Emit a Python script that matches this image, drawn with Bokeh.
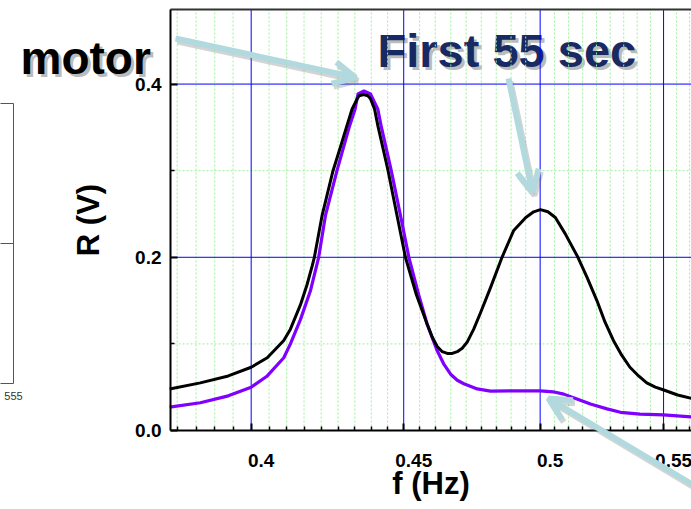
import numpy as np
from bokeh.plotting import figure
from bokeh.models import Range1d, FixedTicker, PrintfTickFormatter, Label, Arrow, OpenHead
from bokeh.embed import file_html
from bokeh.resources import INLINE

# ---------------- data ----------------
F_BLACK = [0.3756, 0.3846, 0.3930, 0.4000, 0.4050, 0.4102, 0.4123, 0.4155, 0.4176,
           0.4193, 0.4200, 0.4225, 0.4261, 0.4287, 0.4307, 0.4324, 0.4341, 0.4348,
           0.4363, 0.4377, 0.4386, 0.4400, 0.4411, 0.4446, 0.4477, 0.4506, 0.4544,
           0.4582, 0.4600, 0.4618, 0.4636, 0.4654, 0.4672, 0.4690, 0.4708, 0.4726,
           0.4750, 0.4775, 0.4812, 0.4855, 0.4899, 0.4945, 0.4975, 0.5001, 0.5030,
           0.5059, 0.5098, 0.5148, 0.5184, 0.5224, 0.5257, 0.5291, 0.5325, 0.5359,
           0.5395, 0.5429, 0.5465, 0.5498, 0.5560, 0.5620]
R_BLACK = [0.048, 0.055, 0.063, 0.073, 0.084, 0.104, 0.117, 0.145, 0.168,
           0.190, 0.200, 0.248, 0.300, 0.329, 0.352, 0.371, 0.383, 0.3865,
           0.388, 0.3865, 0.383, 0.371, 0.352, 0.300, 0.248, 0.200, 0.157,
           0.123, 0.108, 0.097, 0.091, 0.089, 0.089, 0.091, 0.095, 0.102,
           0.117, 0.136, 0.165, 0.200, 0.231, 0.246, 0.2525, 0.255, 0.2525,
           0.246, 0.227, 0.200, 0.177, 0.150, 0.125, 0.104, 0.087, 0.073,
           0.063, 0.055, 0.050, 0.047, 0.041, 0.037]

F_PURPLE = [0.3756, 0.3846, 0.3930, 0.4000, 0.4050, 0.4102, 0.4123, 0.4155, 0.4187,
            0.4214, 0.4236, 0.4274, 0.4316, 0.4334, 0.4344, 0.4364, 0.4386, 0.4411,
            0.4422, 0.4457, 0.4489, 0.4518, 0.4552, 0.4582, 0.4618, 0.4641, 0.4666,
            0.4690, 0.4714, 0.4763, 0.4812, 0.4900, 0.5001, 0.5050, 0.5092, 0.5147,
            0.5198, 0.5265, 0.5320, 0.5401, 0.5500, 0.5620]
R_PURPLE = [0.027, 0.032, 0.040, 0.050, 0.063, 0.084, 0.100, 0.128, 0.161,
            0.200, 0.248, 0.300, 0.352, 0.371, 0.3885, 0.392, 0.3885, 0.371,
            0.352, 0.300, 0.248, 0.200, 0.157, 0.123, 0.092, 0.077, 0.065,
            0.058, 0.054, 0.048, 0.0455, 0.0458, 0.0458, 0.0447, 0.042, 0.036,
            0.0305, 0.025, 0.021, 0.019, 0.018, 0.0158]

X_TICKS = [0.4, 0.45, 0.5, 0.55]
X_TICK_LABELS = ["0.4", "0.45", "0.5", "0.55"]
Y_TICKS = [0.0, 0.2, 0.4]
Y_MINOR_TICKS = [0.1, 0.3]

# ---------------- geometry (canvas pixels of the data area) ----------------
W, H = 691, 509
FL, FR, FT, FB = 170, 691, 9, 430
X0, X1 = 0.37584, 0.56199
Y0, Y1 = 0.0, 0.4861


def cx(px):
    return X0 * (X1 / X0) ** ((px - FL) / (FR - FL))


def cy(py):
    return Y0 + (Y1 - Y0) * (FB - py) / (FB - FT)


def tick_px(v):
    return FL + (FR - FL) * np.log(v / X0) / np.log(X1 / X0)


step = (X_TICKS[1] - X_TICKS[0]) / 9.0
minor_x = []
for k in range(-10, 40):
    v = round(X_TICKS[0] + k * step, 6)
    if X0 <= v <= X1 and all(abs(v - t) > 1e-6 for t in X_TICKS):
        minor_x.append(v)

p = figure(width=W, height=H, x_axis_type="log",
           x_range=Range1d(cx(0), cx(W)), y_range=Range1d(cy(H), cy(0)),
           output_backend="svg", toolbar_location=None,
           min_border=0, min_border_left=0, min_border_right=0,
           min_border_top=0, min_border_bottom=0,
           outline_line_color=None,
           background_fill_color="white", border_fill_color="white")
p.xgrid.visible = False
p.ygrid.visible = False

FONT = "Liberation Sans"

xa = p.xaxis[0]
xa.fixed_location = Y0
xa.bounds = (X0, X1)
xa.ticker = FixedTicker(ticks=X_TICKS, minor_ticks=minor_x)
xa.major_label_text_color = None
xa.axis_label = "f (Hz)"
xa.axis_label_standoff = 35

ya = p.yaxis[0]
ya.fixed_location = X0
ya.bounds = (Y0, Y1)
ya.ticker = FixedTicker(ticks=Y_TICKS, minor_ticks=Y_MINOR_TICKS)
ya.formatter = PrintfTickFormatter(format="%.1f")
ya.major_label_text_font = FONT
ya.major_label_text_font_style = "bold"
ya.major_label_text_font_size = "19px"
ya.major_label_text_color = "black"
ya.major_label_standoff = 9
ya.axis_label = "R (V)"
ya.axis_label_standoff = 26

for ax in (xa, ya):
    ax.axis_label_text_font = FONT
    ax.axis_label_text_font_style = "bold"
    ax.axis_label_text_font_size = "31px"
    ax.axis_label_text_color = "black"
    ax.axis_line_color = "black"
    ax.axis_line_width = 2
    ax.major_tick_in = 7
    ax.major_tick_out = 0
    ax.minor_tick_in = 4
    ax.minor_tick_out = 0
    ax.major_tick_line_color = "black"
    ax.major_tick_line_width = 2
    ax.minor_tick_line_color = "black"
    ax.minor_tick_line_width = 1.5

# grid lines, limited to the data area
n = len(minor_x)
p.segment(x0=minor_x, y0=[Y0] * n, x1=minor_x, y1=[Y1] * n,
          line_color="#9cf09c", line_width=1, line_dash="2 2")
m = len(Y_MINOR_TICKS)
p.segment(x0=[X0] * m, y0=Y_MINOR_TICKS, x1=[X1] * m, y1=Y_MINOR_TICKS,
          line_color="#9cf09c", line_width=1, line_dash="2 2")
k = len(X_TICKS)
p.segment(x0=X_TICKS, y0=[Y0] * k, x1=X_TICKS, y1=[Y1] * k, line_color="#0000ff", line_width=1)
ymaj = Y_TICKS[1:]
p.segment(x0=[X0] * len(ymaj), y0=ymaj, x1=[X1] * len(ymaj), y1=ymaj, line_color="#0000ff", line_width=1)
# top border of the frame
p.segment(x0=[X0], y0=[Y1], x1=[X1], y1=[Y1], line_color="#333333", line_width=2)

# curves
p.line(F_PURPLE, R_PURPLE, line_color="#7f00ff", line_width=3.2, line_join="round")
p.line(F_BLACK, R_BLACK, line_color="black", line_width=3, line_join="round")


def seg(x0, y0, x1, y1, color, width, alpha=1.0):
    p.add_layout(Arrow(x_start=x0, y_start=y0, x_end=x1, y_end=y1,
                       start_units="canvas", end_units="canvas",
                       line_color=color, line_width=width, line_alpha=alpha, end=None))


# x tick labels (sit a little right of their ticks, as in the original)
for t, s in zip(X_TICKS, X_TICK_LABELS):
    p.add_layout(Label(x=tick_px(t) + 10, y=460, x_units="canvas", y_units="canvas", text=s,
                       text_font=FONT, text_font_style="bold", text_font_size="19px",
                       text_align="center", text_baseline="middle", text_color="black"))

# "First 55 sec" (drawn under the grid)
for dx, dy, col, al in ((3, 3, "#808080", 0.55), (0, 0, "#172a64", 1.0)):
    p.add_layout(Label(x=377 + dx, y=50 + dy, x_units="canvas", y_units="canvas", text="First 55 sec",
                       text_font=FONT, text_font_style="bold", text_font_size="47px",
                       text_color=col, text_alpha=al, text_align="left",
                       text_baseline="alphabetic", level="image"))

# "motor"
for dx, dy, col, al in ((3, 3, "#808080", 0.55), (0, 0, "black", 1.0)):
    p.add_layout(Label(x=20 + dx, y=57 + dy, x_units="canvas", y_units="canvas", text="motor",
                       text_font=FONT, text_font_style="bold", text_font_size="46px",
                       text_color=col, text_alpha=al, text_align="left",
                       text_baseline="alphabetic"))

# arrows (with soft shadow)
ARROWS = [((175, 38), (355, 77)), ((508, 78), (532, 192)), ((702, 490), (548, 398))]
for (sx, sy), (ex, ey) in ARROWS:
    p.add_layout(Arrow(x_start=sx + 2, y_start=sy + 3, x_end=ex + 2, y_end=ey + 3,
                       start_units="canvas", end_units="canvas",
                       line_color="#707070", line_alpha=0.3, line_width=6,
                       end=OpenHead(size=22, line_width=6, line_color="#707070", line_alpha=0.3)))
    p.add_layout(Arrow(x_start=sx, y_start=sy, x_end=ex, y_end=ey,
                       start_units="canvas", end_units="canvas",
                       line_color="#b2dade", line_width=6,
                       end=OpenHead(size=22, line_width=6, line_color="#b2dade")))

# fragment of the neighbouring panel on the left
for x0, y0, x1, y1 in [(-2, 103, 13, 103), (13, 103, 13, 383), (-2, 243, 13, 243), (-2, 383, 13, 383)]:
    seg(x0, y0, x1, y1, "#555555", 1)
p.add_layout(Label(x=13, y=395, x_units="canvas", y_units="canvas", text="555",
                   text_font=FONT, text_font_size="11px",
                   text_color="#333333", text_align="center", text_baseline="middle"))

open("out.html", "w").write(file_html(p, INLINE))
